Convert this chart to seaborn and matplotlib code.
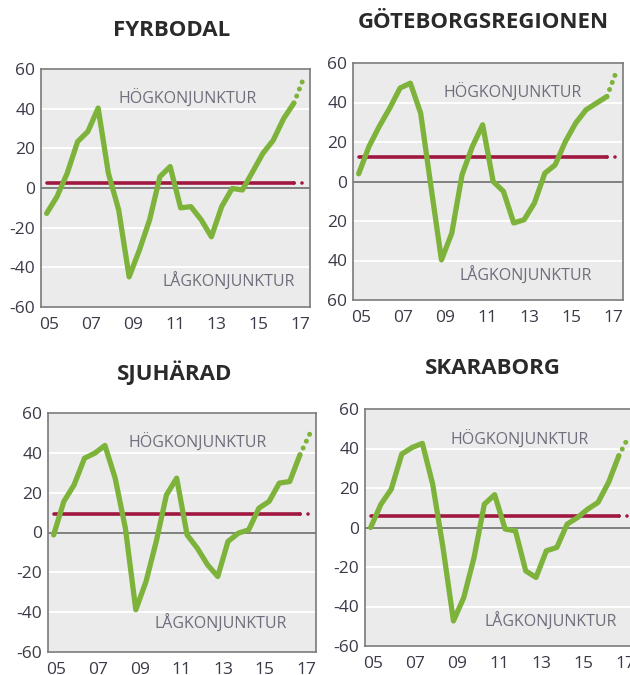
import matplotlib
matplotlib.use('Agg')
import matplotlib.pyplot as plt
import pandas as pd
import seaborn as sns

# half-year survey periods (year within 2000s), last one is the forecast
periods = [4.87, 5.36, 5.85, 6.35, 6.84, 7.33, 7.82, 8.31, 8.81, 9.3, 9.79, 10.28, 10.77,
           11.27, 11.76, 12.25, 12.74, 13.23, 13.73, 14.22, 14.71, 15.2, 15.69, 16.19, 16.68, 17.17]
year_ticks = [5, 7, 9, 11, 13, 15, 17]
year_labels = ['05', '07', '09', '11', '13', '15', '17']
value_ticks = [-60, -40, -20, 0, 20, 40, 60]
value_labels = ['-60', '-40', '-20', '0', '20', '40', '60']
value_labels_nominus = ['60', '40', '20', '0', '20', '40', '60']

fyrbodal = [-12.8, -4.4, 7.4, 23.4, 28.5, 40.3, 7.4, -11, -44.8, -31.3, -16, 5.7, 10.8,
            -10, -9.4, -16, -24.6, -9.4, -0.2, -1, 8.2, 17.5, 24, 35, 42.8, 56]
goteborg = [3.9, 17.7, 27.9, 37.2, 47.3, 49.8, 34.6, -2.5, -39.7, -26.2, 3.4, 17.7, 28.7,
            0, -5, -21, -19.4, -11, 4.2, 8.4, 20.3, 29.6, 36.3, 39.7, 43, 56.6]
sjuharad = [-1.2, 15.6, 23.9, 37.3, 39.8, 43.7, 27.3, 2.2, -38.8, -24.6, -4.5, 18.9, 27.3,
            -1.2, -7.9, -16.2, -22.1, -4.5, -0.3, 1.3, 12.2, 15.6, 24.8, 25.6, 39, 49.9]
skaraborg = [0, 11.8, 19.4, 37.2, 40.5, 42.6, 22, -10, -47.3, -35.5, -15.2, 11.8, 16.6,
             -0.8, -1.7, -22, -25.3, -11.8, -10.1, 1.7, 5, 9.3, 12.7, 22.8, 36.3, 46.5]

# long-term average per region
mean_fyrbodal = 2.7
mean_goteborg = 12.3
mean_sjuharad = 9.2
mean_skaraborg = 5.9

GREEN = '#7db33a'
RED = '#a01840'
W, H = 630, 675

sns.set_style('white')
plt.rcParams['font.family'] = ['Open Sans', 'DejaVu Sans']


def ax_rect(left, top, right, bottom):
    return [left / W, 1 - bottom / H, (right - left) / W, (bottom - top) / H]


def plot_region(fig, rect, title, title_xy, values, mean_level, ylabels, hog_xy, lag_xy):
    ax = fig.add_axes(rect)
    ax.set_facecolor('#ebebeb')
    df = pd.DataFrame({'period': periods, 'value': values, 'mean': mean_level})
    hist = df.iloc[:-1]
    fc = df.iloc[-2:]

    ax.axhline(0, color='#6b6b6b', lw=1.2, zorder=1)
    sns.lineplot(data=hist, x='period', y='mean', ax=ax, color=RED, lw=2.6, zorder=2)
    sns.lineplot(data=fc, x='period', y='mean', ax=ax, color=RED, lw=2.6, zorder=2,
                 linestyle=(0, (0.01, 2.2)), dash_capstyle='round')
    sns.lineplot(data=hist, x='period', y='value', ax=ax, color=GREEN, lw=3.8, zorder=3,
                 solid_capstyle='round', solid_joinstyle='round')
    sns.lineplot(data=fc, x='period', y='value', ax=ax, color=GREEN, lw=3.6, zorder=3,
                 linestyle=(0, (0.01, 1.5)), dash_capstyle='round')

    ax.set_xlim(4.6, 17.45)
    ax.set_ylim(-60, 60)
    ax.set_xticks(year_ticks)
    ax.set_xticklabels(year_labels)
    ax.set_yticks(value_ticks)
    ax.set_yticklabels(ylabels)
    ax.tick_params(length=0, labelsize=12.5, labelcolor='#3a3a48')
    ax.tick_params(axis='x', pad=7)
    ax.tick_params(axis='y', pad=4)
    ax.grid(axis='y', color='white', lw=1.3)
    ax.set_axisbelow(True)
    ax.set_xlabel('')
    ax.set_ylabel('')
    for s in ax.spines.values():
        s.set_color('#7a7a7a')
        s.set_linewidth(1.2)

    ax.text(hog_xy[0], hog_xy[1], 'HÖGKONJUNKTUR', ha='center', va='center',
            fontsize=11.5, color='#6e6e7c')
    ax.text(lag_xy[0], lag_xy[1], 'LÅGKONJUNKTUR', ha='center', va='center',
            fontsize=11.5, color='#6e6e7c')
    fig.text(title_xy[0] / W, 1 - title_xy[1] / H, title, ha='center', va='center',
             fontsize=16, fontweight='bold', color='#2a2a2a')
    return ax


fig = plt.figure(figsize=(W / 100, H / 100), dpi=100)

plot_region(fig, ax_rect(41, 69, 310, 307), 'FYRBODAL', (172, 31),
            fyrbodal, mean_fyrbodal, value_labels, (11.6, 45), (13.55, -47.4))
plot_region(fig, ax_rect(353, 63, 623, 300), 'GÖTEBORGSREGIONEN', (483, 23),
            goteborg, mean_goteborg, value_labels_nominus, (12.2, 45), (12.84, -47.8))
plot_region(fig, ax_rect(48, 413, 316, 652), 'SJUHÄRAD', (175, 373),
            sjuharad, mean_sjuharad, value_labels, (11.78, 44.9), (12.87, -46))
plot_region(fig, ax_rect(365, 409, 635, 646), 'SKARABORG', (493, 369),
            skaraborg, mean_skaraborg, value_labels, (11.94, 44.4), (13.43, -47.8))

fig.savefig('out.png', dpi=100)
